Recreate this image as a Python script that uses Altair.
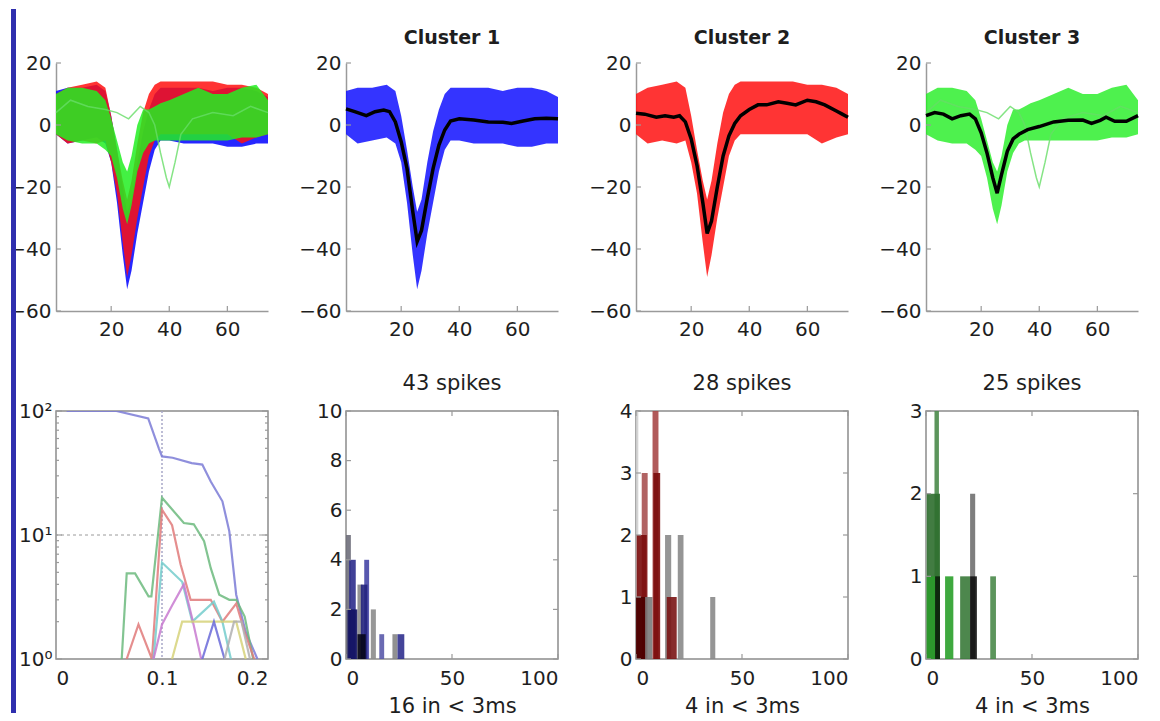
import altair as alt
import pandas as pd

FONT = "DejaVu Sans"
AX = "#9a9a9a"
LBL = "#1e1e1e"
STRIP = "#2f2fae"

# ---------------- top row: spike waveforms ----------------
env_x = [1, 5, 10, 15, 18, 20, 22, 24, 25.5, 27, 29, 31, 33, 35, 37, 40, 45, 50, 55, 60, 65, 70, 74]
blue_hi = [11, 12, 12, 13, 11, 3, -8, -20, -28, -24, -12, -2, 5, 10, 12, 12, 12, 12, 11, 12, 12, 11, 9]
blue_lo = [-3, -6, -5, -4, -6, -12, -25, -42, -53, -47, -35, -25, -15, -8, -5, -5, -6, -6, -6, -7, -7, -6, -6]
red_hi = [10, 12, 13, 14, 12, 3, -8, -18, -24, -18, -6, 4, 10, 13, 14, 14, 14, 14, 14, 13, 13, 12, 10]
red_lo = [-3, -6, -5, -6, -5, -12, -22, -38, -49, -42, -30, -20, -10, -5, -3, -3, -3, -3, -3, -3, -6, -4, -3]
green_hi = [10, 12, 12, 11, 8, 2, -5, -12, -15, -10, 0, 5, 5, 6, 7, 8, 10, 12, 10, 10, 12, 13, 8]
green_lo = [-3, -5, -6, -6, -8, -10, -17, -27, -32, -26, -15, -9, -6, -5, -5, -5, -5, -5, -5, -5, -4, -4, -3]

mean1_x = [1, 4, 8, 11, 14, 16, 18, 20, 22, 24, 25.5, 27, 29, 31, 33, 35, 37, 40, 45, 50, 55, 58, 62, 66, 70, 74]
mean1_y = [5.2, 4.3, 3, 4.3, 4.8, 4.3, 1, -5.4, -14, -28, -37.6, -34, -23.6, -14, -6.5, -1.6, 1.3, 2, 1.6, 1, 0.9, 0.5, 1.3, 2, 2.2, 2]
mean2_x = [1, 4, 8, 11, 14, 16, 18, 20, 22, 24, 25.5, 27, 29, 31, 33, 35, 37, 40, 43, 46, 50, 53, 56, 60, 63, 66, 70, 72, 74]
mean2_y = [3.8, 3.5, 2.5, 3, 2.5, 3, 1, -4.5, -13, -25, -35, -31, -20, -10, -3.5, 0.5, 3, 5, 6.5, 6.5, 7.5, 7, 6.5, 8, 7.5, 6.5, 4.5, 3.5, 2.5]
mean3_x = [1, 4, 7, 10, 13, 16, 18, 20, 22, 24, 25.5, 27, 29, 31, 33, 36, 40, 45, 50, 55, 58, 61, 63, 66, 70, 74]
mean3_y = [3, 4, 3.5, 2, 3, 3.5, 2, -2.5, -9, -17, -22, -16, -8.5, -4.5, -3, -1.5, -0.5, 1, 1.5, 1.6, 0.5, 1.5, 2.5, 1.2, 1.2, 3]

gout_x = [1, 6, 12, 18, 22, 26, 30, 33, 35, 37, 39, 40, 42, 44, 48, 55, 62, 68, 74]
gout_y = [4, 8, 6, 5, 4, 2, 6, 4, 0, -9, -17, -20, -12, -3, 2, 4, 3, 6, 4]

wave_xticks = [20, 40, 60]
wave_yticks = [-60, -40, -20, 0, 20]
cluster_titles = ["Cluster 1", "Cluster 2", "Cluster 3"]

# ---------------- bottom-left: log curves ----------------
purple_x = [0.01, 0.057, 0.087, 0.097, 0.1, 0.11, 0.128, 0.138, 0.146, 0.157, 0.1635, 0.17, 0.179, 0.19]
purple_y = [100, 100, 87, 50, 43, 42, 38, 37, 27, 18.7, 10.7, 3.3, 1.65, 1]
green_lx = [0.062, 0.0667, 0.0746, 0.0873, 0.09, 0.1, 0.1206, 0.13, 0.1397, 0.146, 0.154, 0.1635, 0.17, 0.178, 0.186]
green_ly = [1, 4.9, 4.9, 3.2, 3.2, 20, 12.5, 12.2, 8.9, 5.4, 3.3, 3.0, 3.0, 2.2, 1]
red_lx = [0.0667, 0.0778, 0.0905, 0.1, 0.1095, 0.1175, 0.127, 0.146, 0.157, 0.17, 0.178, 0.187]
red_ly = [1, 1.9, 1, 16, 12, 5.8, 3.0, 3.0, 2.0, 2.8, 1.65, 1]
cyan_lx = [0.092, 0.1, 0.119, 0.1286, 0.149, 0.157, 0.165]
cyan_ly = [1, 6.0, 4.2, 2.0, 2.9, 2.0, 1]
mag_lx = [0.092, 0.1, 0.1095, 0.1206, 0.1286, 0.137]
mag_ly = [1, 1.9, 2.7, 4.0, 2.1, 1]
yel_lx = [0.1095, 0.119, 0.17, 0.179]
yel_ly = [1, 2, 2, 1]
blu2_lx = [0.138, 0.149, 0.159]
blu2_ly = [1, 2, 1]
gray_lx = [0.159, 0.168, 0.175, 0.183]
gray_ly = [1, 2, 2, 1]
log_colors = ["#7b7bd6", "#6cba7e", "#e07a7a", "#74cccc", "#c87ad0", "#d6d27a", "#6a6ad8", "#b0b0b0"]
log_xticks = [0, 0.1, 0.2]
log_major = [1, 10, 100]
log_minor = [2, 3, 4, 5, 6, 7, 8, 9, 20, 30, 40, 50, 60, 70, 80, 90]

# ---------------- bottom row: ISI histograms ----------------
h1_x0 = [0, 1.5, 0.7, 5.4, 8.6, 7.0, 5.4, 11.7, 15.7, 21.9, 24.3]
h1_x1 = [2.3, 4.6, 5.4, 7.8, 10.9, 10.1, 9.3, 14.1, 18.0, 24.3, 27.5]
h1_n = [5, 4, 2, 3, 4, 3, 1, 2, 1, 1, 1]
h1_c = ["#6e6e7a", "#2c2c8c", "#121262", "#8a8a8a", "#4646a6", "#23237e", "#05051a", "#8c8c8c", "#5a5aaa", "#858585", "#30308e"]

h2_x0 = [0, 2.7, 0.3, 0, 4.3, 7.8, 8.2, 13.7, 14.5, 19.7, 35.0]
h2_x1 = [1.1, 5.5, 5.1, 4.5, 7.8, 10.6, 11.4, 16.6, 19.2, 22.4, 37.4]
h2_n = [4, 3, 2, 1, 1, 4, 3, 2, 1, 2, 1]
h2_c = ["#cfcfcf", "#a85252", "#7a0a0a", "#4a0000", "#7a7a7a", "#a84848", "#7a0a0a", "#8a8a8a", "#7a1414", "#8a8a8a", "#8a8a8a"]

h3_x0 = [0, 4.0, 0.3, 0.3, 4.3, 9.0, 16.1, 20.8, 20.8, 30.3]
h3_x1 = [1.2, 6.1, 6.6, 4.3, 6.6, 12.9, 20.8, 23.2, 24.0, 33.0]
h3_n = [2, 3, 2, 1, 1, 1, 1, 2, 1, 1]
h3_c = ["#c4c4c4", "#4a8a4a", "#2e6e2e", "#2a9a2a", "#0a200a", "#2aa02a", "#3a7a3a", "#707070", "#101010", "#4a8a4a"]

hist_titles = ["43 spikes", "28 spikes", "25 spikes"]
hist_xtitles = ["16 in < 3ms", "4 in < 3ms", "4 in < 3ms"]
hist_ymax = [10, 4, 3]
hist_yticks = [[0, 2, 4, 6, 8, 10], [0, 1, 2, 3, 4], [0, 1, 2, 3]]
hist_xticks = [0, 50, 100]

W, H = 212, 248

# ---------------- helpers ----------------
def lab_axis(values, orient_pad, fmt=None, expr=None, domain=True, title=None, titley=None, size=20):
    kw = dict(values=values, ticks=False, grid=False, domain=domain, domainColor=AX, domainWidth=1.5,
              labelFont=FONT, labelFontSize=size, labelColor=LBL, labelPadding=orient_pad,
              title=title)
    if fmt:
        kw["format"] = fmt
    if expr:
        kw["labelExpr"] = expr
    if title:
        kw.update(titleFont=FONT, titleFontSize=21, titleFontWeight="normal", titleColor=LBL,
                  titleBaseline="alphabetic", titleY=titley)
    return alt.Axis(**kw)


XS_W = alt.Scale(domain=[1, 74], nice=False, zero=False)
YS_W = alt.Scale(domain=[-60, 20], nice=False, zero=False)
xa_w = lab_axis(wave_xticks, 8)
ya_w = lab_axis(wave_yticks, 5)


def band(xs, hi, lo, color, op):
    df = pd.DataFrame({"x": xs, "hi": hi, "lo": lo})
    return alt.Chart(df).mark_area(color=color, opacity=op).encode(
        x=alt.X("x:Q", scale=XS_W, axis=xa_w),
        y=alt.Y("hi:Q", scale=YS_W, axis=ya_w),
        y2="lo:Q",
    )


def trace(xs, ys, color, width, op=1.0):
    df = pd.DataFrame({"x": xs, "y": ys})
    return alt.Chart(df).mark_line(color=color, strokeWidth=width, opacity=op).encode(
        x=alt.X("x:Q", scale=XS_W, axis=xa_w),
        y=alt.Y("y:Q", scale=YS_W, axis=ya_w),
    )


def inner_ticks(xvals, xscale, yvals, yscale, box=False, ylen=5):
    out = []
    ydf = pd.DataFrame({"v": yvals})
    xdf = pd.DataFrame({"v": xvals})
    out.append(alt.Chart(ydf).mark_rule(color=AX, strokeWidth=1.2).encode(
        y=alt.Y("v:Q", scale=yscale), x=alt.value(0), x2=alt.value(ylen)))
    out.append(alt.Chart(xdf).mark_rule(color=AX, strokeWidth=1.2).encode(
        x=alt.X("v:Q", scale=xscale), y=alt.value(H), y2=alt.value(H - 5)))
    if box:
        out.append(alt.Chart(ydf).mark_rule(color=AX, strokeWidth=1.2).encode(
            y=alt.Y("v:Q", scale=yscale), x=alt.value(W - ylen), x2=alt.value(W)))
        out.append(alt.Chart(xdf).mark_rule(color=AX, strokeWidth=1.2).encode(
            x=alt.X("v:Q", scale=xscale), y=alt.value(0), y2=alt.value(5)))
    return out


def top_title(t):
    return alt.TitleParams(text=t, font=FONT, fontSize=19, fontWeight="bold", color=LBL,
                           frame="group", anchor="middle", offset=5)


# ---------------- top row ----------------
strip = alt.Chart(pd.DataFrame({"k": [0]})).mark_rect(color=STRIP).encode(
    x=alt.value(-45), x2=alt.value(-40), y=alt.value(-54), y2=alt.value(650))

p_all = alt.layer(
    band(env_x, blue_hi, blue_lo, "#1010ff", 0.9),
    band(env_x, red_hi, red_lo, "#ff1010", 0.85),
    band(env_x, green_hi, green_lo, "#22ee22", 0.85),
    trace(gout_x, gout_y, "#66dd66", 1.5, 0.8),
    *inner_ticks(wave_xticks, XS_W, wave_yticks, YS_W),
    strip,
).properties(width=W, height=H)

p_c1 = alt.layer(
    band(env_x, blue_hi, blue_lo, "#1010ff", 0.85),
    trace(mean1_x, mean1_y, "#000000", 3.5),
    *inner_ticks(wave_xticks, XS_W, wave_yticks, YS_W),
).properties(width=W, height=H, title=top_title(cluster_titles[0]))

p_c2 = alt.layer(
    band(env_x, red_hi, red_lo, "#ff1010", 0.85),
    trace(mean2_x, mean2_y, "#000000", 3.5),
    *inner_ticks(wave_xticks, XS_W, wave_yticks, YS_W),
).properties(width=W, height=H, title=top_title(cluster_titles[1]))

p_c3 = alt.layer(
    band(env_x, green_hi, green_lo, "#22ee22", 0.8),
    trace(gout_x, gout_y, "#66dd66", 1.5, 0.8),
    trace(mean3_x, mean3_y, "#000000", 3.5),
    *inner_ticks(wave_xticks, XS_W, wave_yticks, YS_W),
).properties(width=W, height=H, title=top_title(cluster_titles[2]))

# ---------------- bottom-left log panel ----------------
LX = alt.Scale(domain=[0, 0.2], nice=False, zero=False)
LY = alt.Scale(type="log", domain=[1, 100], nice=False)
xa_l = lab_axis(log_xticks, 9, fmt="~g", domain=False)
ya_l = lab_axis(log_major, 4, domain=False,
                expr="datum.value == 100 ? '10²' : datum.value == 10 ? '10¹' : '10⁰'")

series = [
    (purple_x, purple_y), (green_lx, green_ly), (red_lx, red_ly), (cyan_lx, cyan_ly),
    (mag_lx, mag_ly), (yel_lx, yel_ly), (blu2_lx, blu2_ly), (gray_lx, gray_ly),
]
rows = []
for i, (xs, ys) in enumerate(series):
    for xv, yv in zip(xs, ys):
        rows.append({"s": i, "x": xv, "y": yv, "c": log_colors[i]})
log_df = pd.DataFrame(rows)

log_lines = alt.Chart(log_df).mark_line(strokeWidth=2.2, opacity=0.85, clip=True).encode(
    x=alt.X("x:Q", scale=LX, axis=xa_l),
    y=alt.Y("y:Q", scale=LY, axis=ya_l),
    detail="s:N",
    color=alt.Color("c:N", scale=None),
)
vguide = alt.Chart(pd.DataFrame({"v": [0.1]})).mark_rule(color="#a8a8c8", strokeDash=[2, 2], strokeWidth=1.5).encode(
    x=alt.X("v:Q", scale=LX, axis=xa_l))
hguide = alt.Chart(pd.DataFrame({"v": [10]})).mark_rule(color="#9a9a9a", strokeDash=[3, 3], strokeWidth=1).encode(
    y=alt.Y("v:Q", scale=LY, axis=ya_l))


def log_ticks(vals, length):
    d = pd.DataFrame({"v": vals})
    return [
        alt.Chart(d).mark_rule(color=AX, strokeWidth=1.2).encode(
            y=alt.Y("v:Q", scale=LY), x=alt.value(0), x2=alt.value(length)),
        alt.Chart(d).mark_rule(color=AX, strokeWidth=1.2).encode(
            y=alt.Y("v:Q", scale=LY), x=alt.value(W - length), x2=alt.value(W)),
    ]


box_view = alt.ViewBackground(stroke="#8c8c8c", strokeWidth=1.5)

q_log = alt.layer(
    hguide, vguide, log_lines,
    *log_ticks(log_major, 6), *log_ticks(log_minor, 3),
).properties(width=W, height=H, view=box_view)

# ---------------- histograms ----------------
HX = alt.Scale(domain=[0, 100], nice=False, zero=False)


def hist_panel(x0, x1, n, cols, k):
    ys = alt.Scale(domain=[0, hist_ymax[k]], nice=False)
    xa = lab_axis(hist_xticks, 9, domain=False, title=hist_xtitles[k], titley=53)
    ya = lab_axis(hist_yticks[k], 4, domain=False, fmt="d")
    df = pd.DataFrame({"x0": x0, "x1": x1, "n": n, "c": cols})
    bars = alt.Chart(df).mark_rect(opacity=0.9).encode(
        x=alt.X("x0:Q", scale=HX, axis=xa),
        x2="x1:Q",
        y=alt.Y("n:Q", scale=ys, axis=ya),
        y2=alt.datum(0),
        color=alt.Color("c:N", scale=None),
    )
    return alt.layer(
        bars, *inner_ticks(hist_xticks, HX, hist_yticks[k], ys, box=True)
    ).properties(
        width=W, height=H, view=box_view,
        title=alt.TitleParams(text=hist_titles[k], font=FONT, fontSize=21, fontWeight="normal",
                              color=LBL, frame="group", anchor="middle", offset=7),
    )


q_h1 = hist_panel(h1_x0, h1_x1, h1_n, h1_c, 0)
q_h2 = hist_panel(h2_x0, h2_x1, h2_n, h2_c, 1)
q_h3 = hist_panel(h3_x0, h3_x1, h3_n, h3_c, 2)

chart = alt.concat(
    p_all, p_c1, p_c2, p_c3, q_log, q_h1, q_h2, q_h3,
    columns=4, spacing={"row": 100, "column": 78}, bounds="flush",
).properties(padding=0, background="white").configure_view(stroke="transparent")

chart.save("out.html", embed_options={"renderer": "svg", "actions": False})
